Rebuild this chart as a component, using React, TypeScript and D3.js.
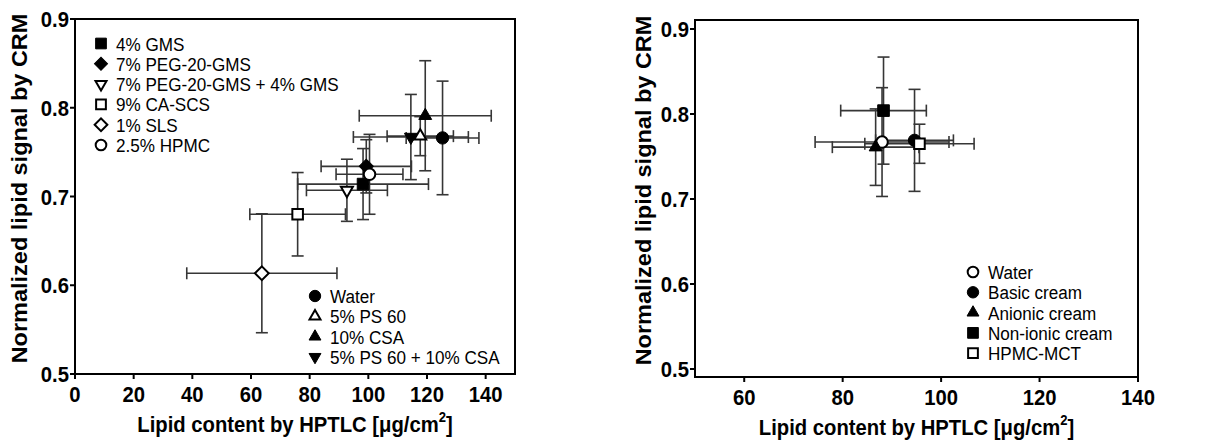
import React from "react";
import * as d3 from "d3";

// ---- Left panel: excipient / formulation series ----
const leftGroups = [
  "4% GMS",
  "7% PEG-20-GMS",
  "7% PEG-20-GMS + 4% GMS",
  "9% CA-SCS",
  "1% SLS",
  "2.5% HPMC",
  "Water",
  "5% PS 60",
  "10% CSA",
  "5% PS 60 + 10% CSA",
];
const leftMarkers = [
  "squareFilled",
  "diamondFilled",
  "triDownOpen",
  "squareOpen",
  "diamondOpen",
  "circleOpen",
  "circleFilled",
  "triUpOpen",
  "triUpFilled",
  "triDownFilled",
];
const leftHptlc = [98.2, 99.3, 92.7, 75.9, 63.7, 100.4, 125.3, 117.7, 119.4, 114.5];
const leftHptlcSd = [22.3, 15.4, 13.8, 16.3, 25.6, 11.4, 12.4, 11.3, 22.5, 19.6];
const leftCrm = [0.714, 0.734, 0.707, 0.68, 0.6135, 0.725, 0.766, 0.768, 0.791, 0.767];
const leftCrmSd = [0.04, 0.03, 0.035, 0.047, 0.067, 0.045, 0.064, 0.022, 0.062, 0.048];
const leftLegendTop = [0, 1, 2, 3, 4, 5];
const leftLegendBottom = [6, 7, 8, 9];
const leftXTicks = [0, 20, 40, 60, 80, 100, 120, 140];

// ---- Right panel: cream vehicles ----
const rightGroups = ["Water", "Basic cream", "Anionic cream", "Non-ionic cream", "HPMC-MCT"];
const rightMarkers = ["circleOpen", "circleFilled", "triUpFilled", "squareFilled", "squareOpen"];
const rightHptlc = [88.0, 94.6, 86.7, 88.3, 95.6];
const rightHptlcSd = [13.6, 7.9, 8.8, 8.7, 11.1];
const rightCrm = [0.767, 0.769, 0.761, 0.804, 0.765];
const rightCrmSd = [0.064, 0.06, 0.045, 0.063, 0.023];
const rightLegend = [0, 1, 2, 3, 4];
const rightXTicks = [60, 80, 100, 120, 140];

const yTicks = [0.5, 0.6, 0.7, 0.8, 0.9];

const FONT = "'Liberation Sans', Arial, Helvetica, sans-serif";
const BAR = "#363636";
// glyphs in this figure are set slightly condensed
const SQUASH = 0.9;

function markerPath(kind: string, scale = 1): string {
  const open = kind.endsWith("Open");
  let type = d3.symbolTriangle;
  let size = 72;
  if (kind.startsWith("circle")) {
    type = d3.symbolCircle;
    size = open ? 105 : 120;
  } else if (kind.startsWith("square")) {
    type = d3.symbolSquare;
    size = open ? 112 : 135;
  } else if (kind.startsWith("diamond")) {
    type = d3.symbolSquare;
    size = open ? 95 : 100;
  } else if (open) {
    size = 62;
  }
  return d3.symbol().type(type).size(size * scale)() as string;
}

function markerRotation(kind: string): number {
  if (kind.startsWith("diamond")) return 45;
  if (kind.startsWith("triDown")) return 180;
  return 0;
}

function Marker({ kind, x, y, scale = 1 }: { kind: string; x: number; y: number; scale?: number }) {
  const open = kind.endsWith("Open");
  return (
    <path
      d={markerPath(kind, scale)}
      transform={`translate(${x},${y}) rotate(${markerRotation(kind)})`}
      fill={open ? "#fff" : "#000"}
      stroke="#000"
      strokeWidth={open ? 2 : 1}
      strokeLinejoin="miter"
    />
  );
}

function Label({
  x,
  y,
  size,
  bold = false,
  anchor = "start",
  children,
}: {
  x: number;
  y: number;
  size: number;
  bold?: boolean;
  anchor?: string;
  children: React.ReactNode;
}) {
  return (
    <text
      transform={`translate(${x},${y}) scale(${SQUASH},1)`}
      textAnchor={anchor}
      fontFamily={FONT}
      fontWeight={bold ? "bold" : "normal"}
      fontSize={size}
    >
      {children}
    </text>
  );
}

type PanelProps = {
  left: number;
  right: number;
  top: number;
  bottom: number;
  xDomain: [number, number];
  yDomain: [number, number];
  xTicks: number[];
  groups: string[];
  markers: string[];
  hptlc: number[];
  hptlcSd: number[];
  crm: number[];
  crmSd: number[];
  legends: { items: number[]; x: number; y: number }[];
  yTitleX: number;
};

function Panel(p: PanelProps) {
  const x = d3.scaleLinear().domain(p.xDomain).range([p.left, p.right]);
  const y = d3.scaleLinear().domain(p.yDomain).range([p.bottom, p.top]);
  const cap = 6;
  const midX = (p.left + p.right) / 2;
  const midY = (p.top + p.bottom) / 2;

  return (
    <g>
      {/* error bars */}
      <g stroke={BAR} strokeWidth={1.6} fill="none">
        {p.hptlc.map((v, i) => {
          const cx = x(v);
          const cy = y(p.crm[i]);
          const x0 = x(v - p.hptlcSd[i]);
          const x1 = x(v + p.hptlcSd[i]);
          const y0 = y(p.crm[i] - p.crmSd[i]);
          const y1 = y(p.crm[i] + p.crmSd[i]);
          return (
            <g key={"e" + i}>
              <line x1={x0} x2={x1} y1={cy} y2={cy} />
              <line x1={x0} x2={x0} y1={cy - cap} y2={cy + cap} />
              <line x1={x1} x2={x1} y1={cy - cap} y2={cy + cap} />
              <line x1={cx} x2={cx} y1={y0} y2={y1} />
              <line x1={cx - cap} x2={cx + cap} y1={y0} y2={y0} />
              <line x1={cx - cap} x2={cx + cap} y1={y1} y2={y1} />
            </g>
          );
        })}
      </g>
      {/* markers */}
      {p.hptlc.map((v, i) => (
        <Marker key={"m" + i} kind={p.markers[i]} x={x(v)} y={y(p.crm[i])} />
      ))}

      {/* frame */}
      <rect
        x={p.left}
        y={p.top}
        width={p.right - p.left}
        height={p.bottom - p.top}
        fill="none"
        stroke="#000"
        strokeWidth={2}
      />

      {/* x axis ticks */}
      {p.xTicks.map((t) => (
        <g key={"xt" + t}>
          <line x1={x(t)} x2={x(t)} y1={p.bottom} y2={p.bottom + 5} stroke="#000" strokeWidth={2} />
          <Label x={x(t)} y={p.bottom + 28} size={22.5} bold anchor="middle">
            {t}
          </Label>
        </g>
      ))}
      {/* y axis ticks */}
      {yTicks.map((t) => (
        <g key={"yt" + t}>
          <line x1={p.left - 5} x2={p.left} y1={y(t)} y2={y(t)} stroke="#000" strokeWidth={2} />
          <Label x={p.left - 6} y={y(t) + 8} size={22.5} bold anchor="end">
            {d3.format(".1f")(t)}
          </Label>
        </g>
      ))}

      {/* axis titles */}
      <Label x={midX} y={p.bottom + 58} size={22.5} bold anchor="middle">
        Lipid content by HPTLC [μg/cm
        <tspan fontSize={14.5} dy={-10}>
          2
        </tspan>
        <tspan dy={10}>]</tspan>
      </Label>
      <text
        transform={`translate(${p.yTitleX},${midY - 8}) scale(${SQUASH},1) rotate(-90)`}
        textAnchor="middle"
        fontFamily={FONT}
        fontWeight="bold"
        fontSize={23.5}
      >
        Normalized lipid signal by CRM
      </text>

      {/* legends */}
      {p.legends.map((lg, li) => (
        <g key={"lg" + li}>
          {lg.items.map((idx, k) => {
            const ly = lg.y + k * 20.3;
            return (
              <g key={"li" + idx}>
                <Marker kind={p.markers[idx]} x={lg.x} y={ly} scale={0.85} />
                <Label x={lg.x + 15} y={ly + 7} size={19}>
                  {p.groups[idx]}
                </Label>
              </g>
            );
          })}
        </g>
      ))}
    </g>
  );
}

export default function App() {
  return (
    <svg
      width={1210}
      height={443}
      viewBox="0 0 1210 443"
      style={{ position: "absolute", left: 0, top: 0, background: "#fff" }}
    >
      <rect x={0} y={0} width={1210} height={443} fill="#fff" />
      <Panel
        left={75}
        right={515}
        top={19}
        bottom={374}
        xDomain={[0, 150]}
        yDomain={[0.5, 0.9]}
        xTicks={leftXTicks}
        groups={leftGroups}
        markers={leftMarkers}
        hptlc={leftHptlc}
        hptlcSd={leftHptlcSd}
        crm={leftCrm}
        crmSd={leftCrmSd}
        legends={[
          { items: leftLegendTop, x: 101, y: 43.5 },
          { items: leftLegendBottom, x: 315, y: 296 },
        ]}
        yTitleX={26.5}
      />
      <Panel
        left={695}
        right={1138}
        top={20}
        bottom={377}
        xDomain={[50, 140]}
        yDomain={[0.4906, 0.9106]}
        xTicks={rightXTicks}
        groups={rightGroups}
        markers={rightMarkers}
        hptlc={rightHptlc}
        hptlcSd={rightHptlcSd}
        crm={rightCrm}
        crmSd={rightCrmSd}
        legends={[{ items: rightLegend, x: 973, y: 272 }]}
        yTitleX={651}
      />
    </svg>
  );
}
